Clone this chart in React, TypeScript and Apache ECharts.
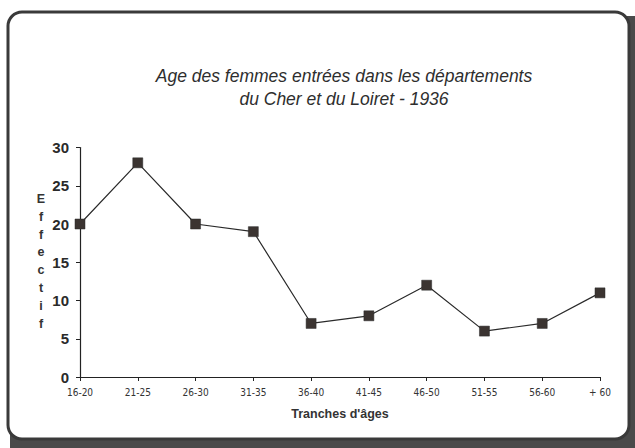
import React, { useEffect, useRef } from "react";
import * as echarts from "echarts";

const categories = ["16-20", "21-25", "26-30", "31-35", "36-40", "41-45", "46-50", "51-55", "56-60", "+ 60"];
const effectif = [20, 28, 20, 19, 7, 8, 12, 6, 7, 11];
const yTicks = { min: 0, max: 30, interval: 5 };
const titleLines = ["Age des femmes entrées dans les départements", "du Cher et du Loiret - 1936"];
const xName = "Tranches d'âges";
const yName = "Effectif";

export default function App() {
  const ref = useRef<HTMLDivElement>(null);
  useEffect(() => {
    if (!ref.current) return;
    const chart = echarts.init(ref.current, null, { renderer: "svg" });
    const font = "'Liberation Sans', Arial, sans-serif";
    chart.setOption({
      animation: false,
      backgroundColor: "#ffffff",
      title: {
        text: titleLines.join("\n"),
        left: 339,
        textAlign: "center",
        top: 59,
        textStyle: {
          fontFamily: font,
          fontStyle: "italic",
          fontWeight: "normal",
          fontSize: 17.5,
          lineHeight: 23,
          color: "#2e2e2e",
        },
      },
      graphic: [
        {
          type: "rect",
          z: -10,
          shape: { x: 10, y: 16, width: 625, height: 432 },
          style: { fill: "#4a4a4a" },
          silent: true,
        },
        {
          type: "rect",
          z: -9,
          shape: { x: 8, y: 12, width: 621, height: 427, r: 14 },
          style: { fill: "#ffffff", stroke: "#3a3a3a", lineWidth: 3 },
          silent: true,
        },
        {
          type: "text",
          x: 41,
          y: 190,
          style: {
            text: yName.split("").join("\n"),
            font: `bold 12.5px ${font}`,
            lineHeight: 17.8,
            fill: "#333",
            align: "center",
            verticalAlign: "top",
          },
        },
      ],
      grid: { left: 80, right: 35, top: 147.5, bottom: 71, containLabel: false },
      xAxis: {
        type: "category",
        data: categories,
        boundaryGap: false,
        name: xName,
        nameLocation: "middle",
        nameGap: 30,
        nameTextStyle: { fontFamily: font, fontSize: 12.5, fontWeight: "bold", color: "#333" },
        axisLine: { lineStyle: { color: "#222", width: 1.2 } },
        axisTick: { show: true, alignWithLabel: true, length: 4, lineStyle: { color: "#222" } },
        axisLabel: {
          fontFamily: "'Liberation Sans Narrow', 'DejaVu Sans Condensed', sans-serif",
          fontSize: 10,
          color: "#333",
          margin: 10,
          interval: 0,
        },
        splitLine: { show: false },
      },
      yAxis: {
        type: "value",
        min: yTicks.min,
        max: yTicks.max,
        interval: yTicks.interval,
        axisLine: { show: true, lineStyle: { color: "#222", width: 1.2 } },
        axisTick: { show: true, length: 4, lineStyle: { color: "#222" } },
        axisLabel: { fontFamily: font, fontSize: 15, fontWeight: "bold", color: "#2a2a2a", margin: 11 },
        splitLine: { show: false },
      },
      series: [
        {
          type: "line",
          data: effectif,
          symbol: "rect",
          symbolSize: 10,
          itemStyle: { color: "#3b3431", borderColor: "#2a2a2a", borderWidth: 0.5 },
          lineStyle: { color: "#2a2a2a", width: 1.2 },
        },
      ],
    });
    return () => chart.dispose();
  }, []);
  return <div ref={ref} style={{ position: "absolute", left: 0, top: 0, width: 635, height: 448 }} />;
}
